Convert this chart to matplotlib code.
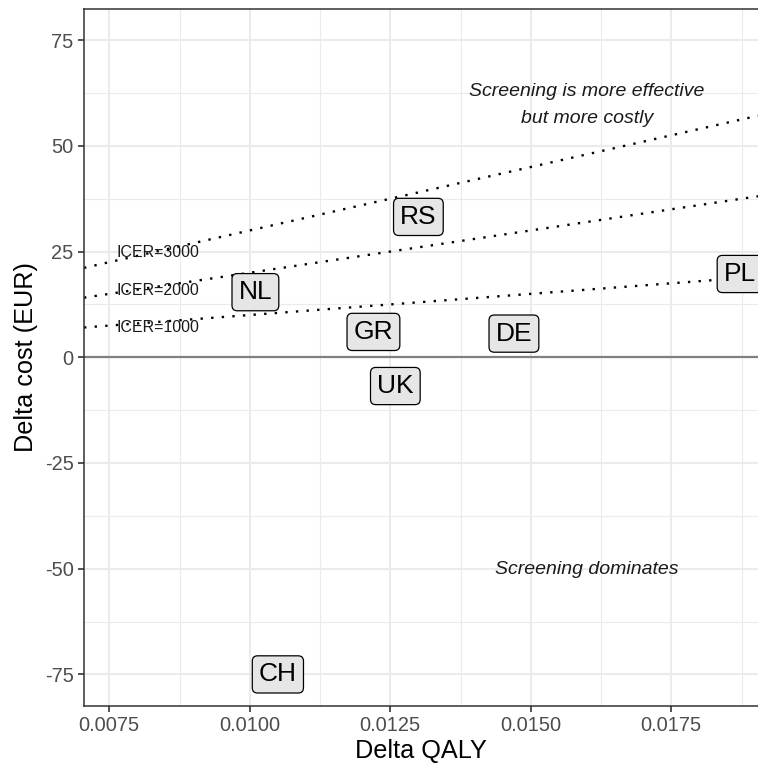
import numpy as np
import matplotlib
matplotlib.use('Agg')
import matplotlib.pyplot as plt
from matplotlib.ticker import MultipleLocator

plt.rcParams['font.family'] = ['Liberation Sans', 'DejaVu Sans']

# ── 数据 ────────────────────────────────────────────
countries   = ["RS", "NL", "PL", "GR", "DE", "UK", "CH"]
delta_qaly  = [0.01300, 0.01010, 0.01872, 0.01220, 0.01470, 0.01259, 0.01050]
delta_cost  = [33.2, 15.4, 19.7, 6.0, 5.6, -6.8, -75.0]

icer_values = [1000, 2000, 3000]
icer_label_y = [7.1, 15.9, 24.7]
icer_label_x = 0.00836

x_ticks = [0.0075, 0.0100, 0.0125, 0.0150, 0.0175]
y_ticks = [-75, -50, -25, 0, 25, 50, 75]

XLIM = (0.00705, 0.019043)
YLIM = (-82.4, 82.3)

GRID_C  = '#EBEBEB'
BORDER  = '#333333'
TICK_C  = '#4D4D4D'

fig = plt.figure(figsize=(7.58, 7.66), dpi=100)
ax = fig.add_axes([84 / 758, 1 - 705.7 / 766, 1 - 84 / 758, (705.7 - 9.3) / 766])

ax.set_xlim(*XLIM)
ax.set_ylim(*YLIM)

ax.set_xticks(x_ticks)
ax.set_xticklabels([f"{v:.4f}" for v in x_ticks])
ax.set_yticks(y_ticks)
ax.set_yticklabels([str(v) for v in y_ticks])
ax.xaxis.set_minor_locator(MultipleLocator(0.00125))
ax.yaxis.set_minor_locator(MultipleLocator(12.5))

ax.grid(which='major', color=GRID_C, linewidth=1.5, zorder=0)
ax.grid(which='minor', color=GRID_C, linewidth=0.8, zorder=0)
ax.set_axisbelow(True)

ax.tick_params(which='major', length=4.5, width=1.2, color=BORDER,
               labelsize=14.4, labelcolor=TICK_C, pad=3)
ax.tick_params(which='minor', length=0)

for side in ['left', 'bottom', 'top']:
    ax.spines[side].set_color(BORDER)
    ax.spines[side].set_linewidth(1.1)
ax.spines['right'].set_visible(False)

# ── 零线 ──────────────────────────────────────────
ax.axhline(0, color='#808080', linewidth=1.6, zorder=1)

# ── ICER 阈值线 ───────────────────────────────────
for icer, ly in zip(icer_values, icer_label_y):
    ax.axline((0, 0), slope=icer, color='black', linewidth=1.7,
              linestyle=(0, (1, 3.5)), zorder=2)
    ax.text(icer_label_x, ly, f"ICER={icer}", fontsize=11.5,
            ha='center', va='center', color='#1a1a1a', zorder=3)

# ── 国家标签 ──────────────────────────────────────
for c, x, y in zip(countries, delta_qaly, delta_cost):
    ax.text(x, y, c, fontsize=19, ha='center', va='center', color='black',
            zorder=4,
            bbox=dict(boxstyle='round,pad=0.25,rounding_size=0.2',
                      facecolor='#E6E6E6', edgecolor='black', linewidth=0.9))

# ── 区域说明 ──────────────────────────────────────
ax.text(0.016, 59.6, "Screening is more effective\nbut more costly",
        fontsize=14, style='italic', ha='center', va='center',
        linespacing=1.75, color='#1a1a1a')
ax.text(0.016, -50.3, "Screening dominates", fontsize=14, style='italic',
        ha='center', va='center', color='#1a1a1a')

ax.set_xlabel("Delta QALY", fontsize=18.2, labelpad=3)
ax.set_ylabel("Delta cost (EUR)", fontsize=18.2, labelpad=5)

fig.savefig("out.png", dpi=100)
